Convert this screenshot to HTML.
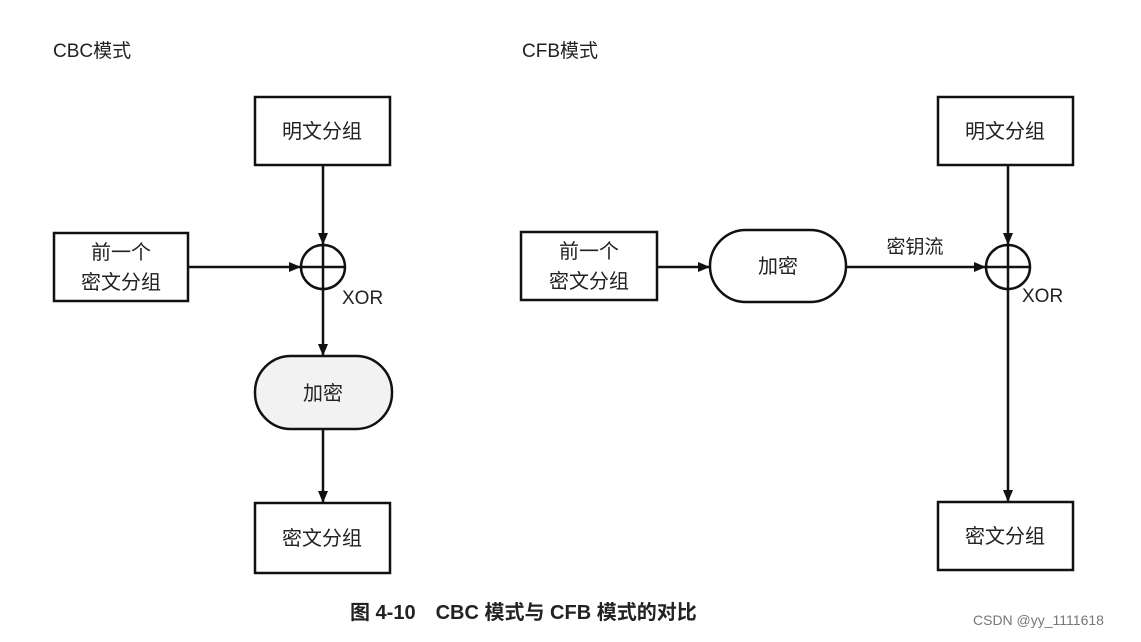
<!DOCTYPE html>
<html><head><meta charset="utf-8"><style>
html,body{margin:0;padding:0;background:#fff;}
svg text{font-family:"Liberation Sans","Noto Sans CJK SC",sans-serif;fill:#222;}
</style></head><body>
<svg width="1141" height="637" viewBox="0 0 1141 637" xmlns="http://www.w3.org/2000/svg">
<defs><marker id="a" markerWidth="12" markerHeight="10" refX="11" refY="5" orient="auto" markerUnits="userSpaceOnUse"><path d="M0,0 L12,5 L0,10 z" fill="#111"/></marker></defs>
<g stroke="#111" stroke-width="2.5" fill="none">
<!-- CBC -->
<rect x="255" y="97" width="135" height="68"/>
<rect x="54" y="233" width="134" height="68"/>
<circle cx="323" cy="267" r="22"/>
<line x1="301" y1="267" x2="345" y2="267"/><line x1="323" y1="245" x2="323" y2="289"/>
<rect x="255" y="356" width="137" height="73" rx="36" fill="#f2f2f2"/>
<rect x="255" y="503" width="135" height="70"/>
<line x1="323" y1="165" x2="323" y2="244" marker-end="url(#a)"/>
<line x1="188" y1="267" x2="300" y2="267" marker-end="url(#a)"/>
<line x1="323" y1="289" x2="323" y2="355" marker-end="url(#a)"/>
<line x1="323" y1="429" x2="323" y2="502" marker-end="url(#a)"/>
<!-- CFB -->
<rect x="938" y="97" width="135" height="68"/>
<rect x="521" y="232" width="136" height="68"/>
<rect x="710" y="230" width="136" height="72" rx="36"/>
<circle cx="1008" cy="267" r="22"/>
<line x1="986" y1="267" x2="1030" y2="267"/><line x1="1008" y1="245" x2="1008" y2="289"/>
<rect x="938" y="502" width="135" height="68"/>
<line x1="1008" y1="165" x2="1008" y2="244" marker-end="url(#a)"/>
<line x1="657" y1="267" x2="709" y2="267" marker-end="url(#a)"/>
<line x1="846" y1="267" x2="985" y2="267" marker-end="url(#a)"/>
<line x1="1008" y1="289" x2="1008" y2="501" marker-end="url(#a)"/>
</g>
<g font-size="19">
<text x="53" y="57">CBC模式</text>
<text x="522" y="57">CFB模式</text>
</g>
<g font-size="20" text-anchor="middle">
<text x="322" y="138">明文分组</text>
<text x="121" y="259">前一个</text>
<text x="121" y="289">密文分组</text>
<text x="323" y="400">加密</text>
<text x="322" y="545">密文分组</text>
<text x="1005" y="138">明文分组</text>
<text x="589" y="258">前一个</text>
<text x="589" y="288">密文分组</text>
<text x="778" y="273">加密</text>
<text x="915" y="253" font-size="19">密钥流</text>
<text x="1005" y="543">密文分组</text>
</g>
<text x="342" y="304" font-size="19">XOR</text>
<text x="1022" y="302" font-size="19">XOR</text>
<text x="350" y="619" font-size="20" font-weight="bold">图 4-10　CBC 模式与 CFB 模式的对比</text>
<text x="973" y="625" font-size="14" style="fill:#777">CSDN @yy_1111618</text>
</svg>
</body></html>
